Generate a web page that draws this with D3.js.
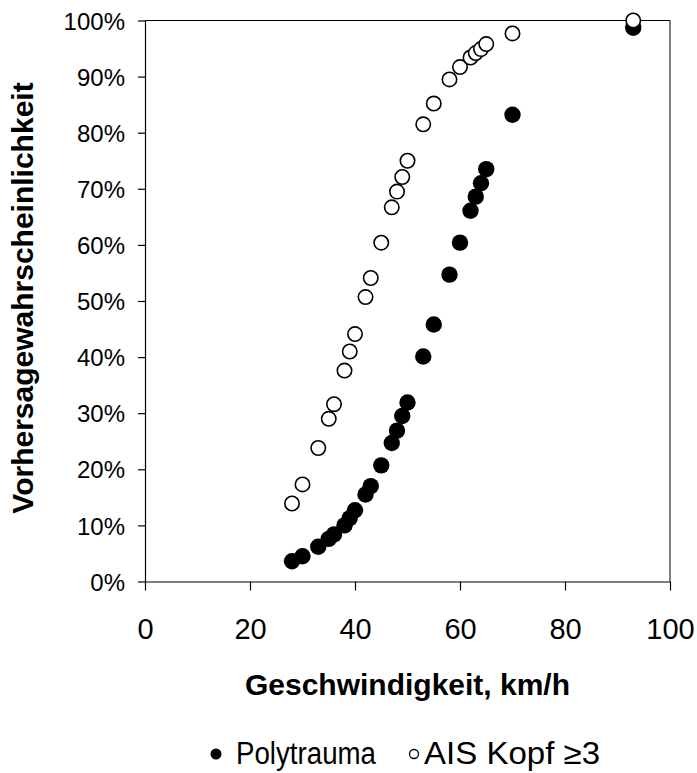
<!DOCTYPE html>
<html>
<head>
<meta charset="utf-8">
<script src="https://cdn.jsdelivr.net/npm/d3@7"></script>
<style>
  html, body { margin: 0; padding: 0; background: #fff; }
  svg { display: block; font-family: "Liberation Sans", Arial, sans-serif; }
</style>
</head>
<body>
<svg id="chart" width="697" height="773"></svg>
<script>
// ---- data ----
const speeds = [28, 30, 33, 35, 36, 38, 39, 40, 42, 43, 45, 47, 48, 49, 50, 53, 55, 58, 60, 62, 63, 64, 65, 70, 93];
const polytrauma = [3.6, 4.5, 6.2, 7.6, 8.4, 10.0, 11.3, 12.7, 15.5, 17.0, 20.7, 24.7, 26.9, 29.5, 31.9, 40.1, 45.8, 54.7, 60.4, 66.1, 68.6, 71.0, 73.5, 83.2, 98.7];
const aisKopf = [13.9, 17.3, 23.8, 29.0, 31.6, 37.6, 41.0, 44.1, 50.7, 54.1, 60.4, 66.7, 69.5, 72.1, 75.0, 81.5, 85.2, 89.5, 91.7, 93.4, 94.2, 94.9, 95.8, 97.7, 100];
const xTicks = [0, 20, 40, 60, 80, 100];
const yTicks = [0, 10, 20, 30, 40, 50, 60, 70, 80, 90, 100];
const seriesNames = ["Polytrauma", "AIS Kopf ≥3"];
const xTitle = "Geschwindigkeit, km/h";
const yTitle = "Vorhersagewahrscheinlichkeit";

(function () {
// ---- layout ----
const svg = d3.select("#chart");
const pLeft = 145, pRight = 670, pTop = 20.5, pBottom = 581.5;

const x = d3.scaleLinear().domain([0, 100]).range([pLeft, pRight]);
const y = d3.scaleLinear().domain([0, 100]).range([pBottom, pTop]);

// frame (top + right)
svg.append("line").attr("x1", pLeft).attr("x2", pRight).attr("y1", pTop).attr("y2", pTop)
  .attr("stroke", "#000").attr("stroke-width", 1);
svg.append("line").attr("x1", pRight).attr("x2", pRight).attr("y1", pTop).attr("y2", pBottom)
  .attr("stroke", "#000").attr("stroke-width", 1);

// x axis
const xAxis = svg.append("g").attr("transform", `translate(0,${pBottom})`)
  .call(d3.axisBottom(x).tickValues(xTicks).tickSize(9).tickSizeOuter(0).tickFormat(d3.format("d")));
xAxis.select(".domain").attr("stroke", "#000").attr("stroke-width", 1.2);
xAxis.selectAll(".tick line").attr("stroke", "#000").attr("stroke-width", 1.2);
xAxis.selectAll(".tick text").attr("font-size", 29).attr("fill", "#000")
  .attr("font-family", "'Liberation Sans', Arial, sans-serif").attr("dy", null)
  .attr("y", 57);

// y axis
const yAxis = svg.append("g").attr("transform", `translate(${pLeft},0)`)
  .call(d3.axisLeft(y).tickValues(yTicks).tickSize(7).tickSizeOuter(0).tickFormat(d => d + "%"));
yAxis.select(".domain").attr("stroke", "#000").attr("stroke-width", 1.2);
yAxis.selectAll(".tick line").attr("stroke", "#000").attr("stroke-width", 1.2);
yAxis.selectAll(".tick text").attr("font-size", 24).attr("fill", "#000")
  .attr("font-family", "'Liberation Sans', Arial, sans-serif").attr("x", -20).attr("dy", "0.36em");

// points
const pts = speeds.map((s, i) => ({ s, p: polytrauma[i], a: aisKopf[i] }));
svg.append("g").selectAll("circle").data(pts).join("circle")
  .attr("cx", d => x(d.s)).attr("cy", d => y(d.p)).attr("r", 8.2).attr("fill", "#000");
svg.append("g").selectAll("circle").data(pts).join("circle")
  .attr("cx", d => x(d.s)).attr("cy", d => y(d.a)).attr("r", 7.2).attr("fill", "#fff")
  .attr("stroke", "#000").attr("stroke-width", 1.6);

// axis titles
svg.append("text").attr("x", (pLeft + pRight) / 2).attr("y", 695)
  .attr("text-anchor", "middle").attr("font-size", 30).attr("font-weight", "bold").text(xTitle);
svg.append("text").attr("transform", `translate(33,${(pTop + pBottom) / 2 - 3}) rotate(-90)`)
  .attr("text-anchor", "middle").attr("font-size", 30).attr("font-weight", "bold").text(yTitle);

// legend
const lg = svg.append("g");
lg.append("circle").attr("cx", 216).attr("cy", 754).attr("r", 5.5).attr("fill", "#000");
lg.append("text").attr("x", 236).attr("y", 764).attr("font-size", 31)
  .attr("textLength", 140).attr("lengthAdjust", "spacingAndGlyphs").text(seriesNames[0]);
lg.append("circle").attr("cx", 414).attr("cy", 754).attr("r", 4.5).attr("fill", "#fff")
  .attr("stroke", "#000").attr("stroke-width", 1.3);
lg.append("text").attr("x", 424).attr("y", 764).attr("font-size", 31)
  .attr("textLength", 176).attr("lengthAdjust", "spacingAndGlyphs").text(seriesNames[1]);
})();
</script>
</body>
</html>
